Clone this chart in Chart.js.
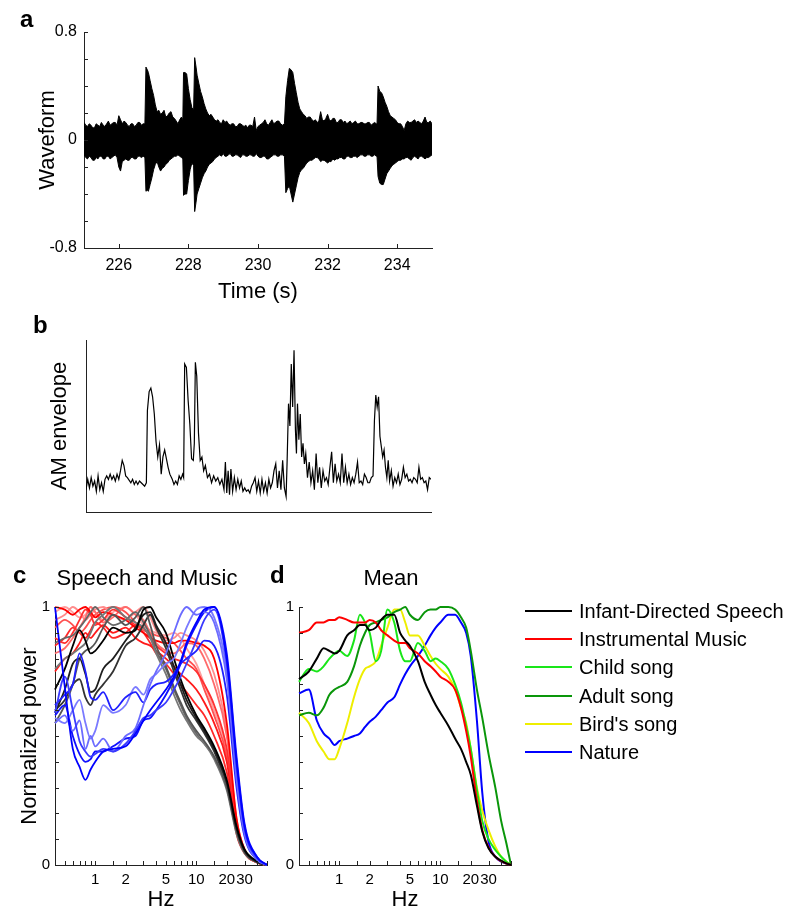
<!DOCTYPE html>
<html>
<head>
<meta charset="utf-8">
<script src="https://cdn.jsdelivr.net/npm/chart.js@4.4.1/dist/chart.umd.min.js"></script>
<style>
  body { margin: 0; background: #fff; font-family: "Liberation Sans", Arial, sans-serif; }
  #fig { position: relative; width: 786px; height: 913px; overflow: hidden; }
  canvas { position: absolute; }
  .txt { position: absolute; white-space: nowrap; line-height: 1; color: #000; }
  .c { transform: translate(-50%, -50%); }
  .letter { font-weight: bold; font-size: 24px; transform: translateY(-50%); }
  .leg { position: absolute; font-size: 20px; line-height: 1; white-space: nowrap; transform: translateY(-50%); }
  .legline { position: absolute; height: 2px; transform: translateY(-50%); }
</style>
</head>
<body>
<div id="fig">
  <canvas id="ca" width="450" height="310" style="left:0;top:0"></canvas>
  <canvas id="cb" width="450" height="220" style="left:0;top:310px"></canvas>
  <canvas id="cc" width="280" height="373" style="left:0;top:540px"></canvas>
  <canvas id="cd" width="516" height="373" style="left:270px;top:540px"></canvas>

  <div class="txt letter" style="left:20px;top:19px">a</div>
  <div class="txt letter" style="left:33px;top:325px">b</div>
  <div class="txt letter" style="left:13px;top:575px">c</div>
  <div class="txt letter" style="left:270px;top:575px">d</div>
  <div class="txt c" style="left:147px;top:578px;font-size:22px">Speech and Music</div>
  <div class="txt c" style="left:391px;top:578px;font-size:22px">Mean</div>
  <div id="legend"></div>
</div>
<script>
// ---- panel a: waveform (upper / lower envelope of the signal) ----
const waveTime = [
  225.00, 225.05, 225.10, 225.15, 225.20, 225.25, 225.30, 225.35, 225.40, 225.45, 225.50, 225.55, 225.60, 225.65, 225.70, 225.75, 225.80, 225.85, 225.90, 225.95,
  226.00, 226.05, 226.10, 226.15, 226.20, 226.25, 226.30, 226.35, 226.40, 226.45, 226.50, 226.55, 226.60, 226.65, 226.70, 226.75, 226.78, 226.82, 226.85, 226.90, 226.95,
  227.00, 227.05, 227.10, 227.15, 227.20, 227.25, 227.30, 227.35, 227.40, 227.45, 227.50, 227.55, 227.60, 227.65, 227.70, 227.75, 227.80, 227.84, 227.86, 227.90, 227.95,
  228.00, 228.05, 228.10, 228.15, 228.18, 228.22, 228.25, 228.30, 228.35, 228.40, 228.45, 228.50, 228.55, 228.60, 228.65, 228.70, 228.75, 228.80, 228.85, 228.90, 228.95,
  229.00, 229.05, 229.10, 229.15, 229.20, 229.25, 229.30, 229.35, 229.40, 229.45, 229.50, 229.55, 229.60, 229.65, 229.70, 229.75, 229.80, 229.85, 229.90, 229.95,
  230.00, 230.05, 230.10, 230.15, 230.20, 230.25, 230.30, 230.35, 230.40, 230.45, 230.50, 230.55, 230.60, 230.65, 230.70, 230.76, 230.80, 230.85, 230.90, 230.95,
  231.00, 231.05, 231.10, 231.15, 231.20, 231.25, 231.30, 231.35, 231.40, 231.45, 231.50, 231.55, 231.60, 231.65, 231.70, 231.75, 231.80, 231.85, 231.90, 231.95,
  232.00, 232.05, 232.10, 232.15, 232.20, 232.25, 232.30, 232.35, 232.40, 232.45, 232.50, 232.55, 232.60, 232.65, 232.70, 232.75, 232.80, 232.85, 232.90, 232.95,
  233.00, 233.05, 233.10, 233.15, 233.20, 233.25, 233.30, 233.35, 233.40, 233.42, 233.45, 233.50, 233.55, 233.60, 233.65, 233.70, 233.75, 233.80, 233.85, 233.90, 233.95,
  234.00, 234.05, 234.10, 234.15, 234.20, 234.25, 234.30, 234.35, 234.40, 234.45, 234.50, 234.55, 234.60, 234.65, 234.70, 234.75, 234.80, 234.85, 234.90, 234.95, 235.00
];
const waveUpper = [
  .13, .11, .10, .12, .11, .09, .09, .12, .11, .10, .13, .11, .10, .12, .14, .11, .12, .13, .13, .11,
  .18, .15, .12, .14, .13, .11, .10, .12, .12, .10, .11, .13, .13, .11, .12, .12, .54, .52, .50, .44, .38,
  .33, .26, .21, .22, .19, .20, .22, .17, .18, .20, .21, .17, .16, .14, .12, .15, .17, .15, .50, .50, .49,
  .38, .30, .24, .22, .61, .54, .48, .42, .36, .32, .27, .23, .20, .18, .19, .17, .15, .14, .15, .13, .12,
  .15, .13, .14, .12, .11, .12, .12, .10, .10, .12, .12, .11, .10, .11, .09, .11, .11, .10, .17, .07,
  .10, .11, .12, .13, .15, .12, .11, .13, .15, .12, .13, .14, .14, .12, .11, .12, .32, .44, .53, .52,
  .50, .42, .35, .28, .23, .21, .19, .18, .16, .17, .17, .15, .14, .15, .13, .14, .21, .15, .14, .16,
  .19, .15, .14, .16, .16, .13, .13, .15, .15, .13, .14, .12, .13, .14, .12, .13, .14, .12, .12, .13,
  .13, .12, .12, .13, .13, .11, .12, .13, .12, .12, .40, .36, .35, .32, .28, .25, .21, .18, .17, .16, .15,
  .13, .12, .12, .10, .07, .12, .14, .13, .13, .14, .15, .13, .14, .13, .12, .14, .17, .13, .13, .14, .12
];
const waveLower = [
  -.11, -.13, -.14, -.12, -.13, -.15, -.15, -.13, -.14, -.12, -.12, -.14, -.14, -.12, -.12, -.14, -.13, -.12, -.11, -.13,
  -.20, -.23, -.16, -.15, -.14, -.15, -.15, -.13, -.13, -.14, -.14, -.12, -.12, -.13, -.12, -.13, -.38, -.37, -.38, -.33, -.28,
  -.22, -.18, -.16, -.20, -.23, -.21, -.20, -.18, -.17, -.15, -.14, -.13, -.12, -.12, -.11, -.12, -.13, -.14, -.41, -.40, -.40,
  -.30, -.22, -.17, -.19, -.53, -.46, -.40, -.36, -.32, -.28, -.25, -.23, -.20, -.18, -.17, -.16, -.14, -.13, -.12, -.11, -.12,
  -.10, -.12, -.12, -.11, -.10, -.12, -.12, -.11, -.11, -.12, -.13, -.11, -.11, -.12, -.12, -.11, -.11, -.12, -.12, -.10,
  -.12, -.13, -.13, -.12, -.12, -.14, -.14, -.13, -.12, -.11, -.11, -.12, -.12, -.11, -.11, -.12, -.39, -.36, -.34, -.40,
  -.46, -.40, -.34, -.28, -.24, -.22, -.21, -.19, -.17, -.16, -.15, -.15, -.14, -.13, -.13, -.14, -.16, -.15, -.15, -.16,
  -.17, -.16, -.16, -.14, -.15, -.14, -.14, -.13, -.13, -.14, -.14, -.12, -.12, -.13, -.13, -.12, -.12, -.13, -.12, -.11,
  -.11, -.12, -.12, -.11, -.11, -.12, -.12, -.11, -.12, -.12, -.27, -.32, -.33, -.33, -.29, -.25, -.23, -.21, -.19, -.18, -.17,
  -.16, -.15, -.15, -.14, -.14, -.13, -.13, -.14, -.15, -.13, -.12, -.13, -.14, -.12, -.12, -.13, -.14, -.13, -.13, -.12, -.11
];
const waveYLabels = ['0.8', '0', '-0.8'];
const timeLabels = [226, 228, 230, 232, 234];

// ---- panel b: AM envelope ----
const envTime = [
  225.00, 225.05, 225.10, 225.15, 225.20, 225.25, 225.30, 225.35, 225.40, 225.45, 225.50, 225.55, 225.60, 225.65, 225.70, 225.75, 225.80, 225.85, 225.90, 225.95,
  226.00, 226.05, 226.10, 226.15, 226.20, 226.30, 226.35, 226.40, 226.45, 226.50, 226.55, 226.60, 226.70, 226.75, 226.78, 226.83, 226.88, 226.93, 226.98,
  227.03, 227.08, 227.13, 227.18, 227.23, 227.28, 227.33, 227.38, 227.43, 227.50, 227.55, 227.60, 227.65, 227.70, 227.75, 227.80, 227.83, 227.86, 227.91, 227.96,
  228.01, 228.06, 228.11, 228.14, 228.17, 228.21, 228.26, 228.31, 228.36, 228.41, 228.46, 228.52, 228.58, 228.64, 228.70, 228.76, 228.82, 228.88, 228.94,
  229.00, 229.04, 229.08, 229.12, 229.16, 229.20, 229.25, 229.30, 229.35, 229.40, 229.45, 229.50, 229.55, 229.60, 229.65, 229.70, 229.75, 229.80, 229.85, 229.90, 229.95,
  230.00, 230.05, 230.10, 230.15, 230.20, 230.25, 230.30, 230.35, 230.40, 230.45, 230.50, 230.55, 230.60, 230.65, 230.70, 230.75, 230.80, 230.83, 230.87, 230.91, 230.95, 230.99,
  231.03, 231.07, 231.10, 231.13, 231.17, 231.21, 231.25, 231.29, 231.33, 231.37, 231.42, 231.47, 231.52, 231.57, 231.62, 231.67, 231.72, 231.77, 231.82, 231.87, 231.92, 231.97,
  232.02, 232.07, 232.12, 232.17, 232.22, 232.27, 232.32, 232.37, 232.42, 232.47, 232.52, 232.57, 232.62, 232.67, 232.72, 232.77, 232.82, 232.87, 232.92, 232.97,
  233.02, 233.07, 233.12, 233.17, 233.22, 233.27, 233.32, 233.36, 233.40, 233.44, 233.48, 233.52, 233.56, 233.60, 233.64, 233.68, 233.72, 233.76, 233.80, 233.85, 233.90, 233.95,
  234.00, 234.05, 234.10, 234.15, 234.20, 234.25, 234.30, 234.35, 234.40, 234.45, 234.50, 234.55, 234.60, 234.65, 234.70, 234.75, 234.80, 234.85, 234.90, 234.95, 235.00
];
const envValue = [
  13, 19, 14, 20, 15, 18, 12, 21, 13, 17, 12, 19, 21, 19, 22, 19, 21, 18, 22, 19,
  24, 30, 27, 21, 20, 17, 19, 16, 18, 16, 18, 17, 15, 17, 59, 70, 72, 67, 57,
  41, 32, 39, 22, 32, 36, 31, 26, 22, 19, 16, 18, 16, 21, 19, 22, 20, 86, 84, 65,
  51, 31, 30, 40, 87, 79, 46, 30, 32, 24, 27, 20, 22, 17, 21, 18, 20, 16, 19,
  13, 29, 11, 24, 10, 25, 12, 20, 13, 19, 14, 18, 12, 14, 12, 13, 11, 15, 17, 20, 12,
  18, 11, 19, 12, 17, 11, 19, 14, 17, 24, 28, 14, 24, 13, 30, 14, 9, 30, 63, 50, 86, 61,
  94, 48, 34, 63, 42, 57, 32, 40, 28, 34, 20, 29, 17, 24, 13, 34, 17, 26, 14, 24, 18, 20,
  16, 26, 35, 17, 28, 18, 22, 17, 34, 17, 26, 17, 22, 16, 20, 17, 22, 29, 17, 18,
  16, 22, 20, 17, 17, 20, 21, 53, 68, 61, 67, 44, 38, 32, 36, 26, 20, 30, 18, 24, 15, 20,
  17, 22, 16, 19, 26, 20, 22, 18, 19, 17, 20, 19, 17, 26, 19, 20, 17, 18, 13, 20, 19
];

// ---- panel c: individual spectra ----
const cFreq = [0.4, 0.5, 0.6, 0.7, 0.8, 0.9, 1, 1.2, 1.5, 2, 2.5, 3, 3.5, 4, 5, 6, 7, 8, 10, 12, 15, 20, 25, 30, 40, 50];
const speechCurves = [
  [0.68, 0.76, 0.85, 0.91, 0.87, 0.82, 0.83, 0.87, 0.92, 0.90, 0.91, 0.99, 1.00, 0.96, 0.90, 0.80, 0.72, 0.66, 0.58, 0.53, 0.46, 0.33, 0.15, 0.06, 0.015, 0],
  [0.59, 0.68, 0.78, 0.80, 0.74, 0.67, 0.68, 0.76, 0.80, 0.87, 0.92, 0.97, 0.98, 0.93, 0.86, 0.77, 0.70, 0.64, 0.57, 0.52, 0.45, 0.32, 0.14, 0.055, 0.012, 0],
  [0.55, 0.62, 0.70, 0.80, 0.83, 0.84, 0.86, 0.92, 0.97, 0.93, 0.96, 1.00, 0.93, 0.85, 0.77, 0.69, 0.63, 0.58, 0.52, 0.48, 0.42, 0.30, 0.13, 0.05, 0.012, 0],
  [0.60, 0.64, 0.70, 0.72, 0.65, 0.62, 0.66, 0.70, 0.75, 0.85, 0.88, 0.93, 0.97, 0.92, 0.84, 0.75, 0.68, 0.62, 0.56, 0.51, 0.44, 0.31, 0.14, 0.05, 0.012, 0],
  [0.76, 0.80, 0.82, 0.84, 0.86, 0.90, 0.94, 0.97, 1.00, 0.96, 0.94, 0.92, 0.88, 0.82, 0.74, 0.66, 0.60, 0.56, 0.50, 0.47, 0.41, 0.29, 0.12, 0.045, 0.01, 0],
  [0.86, 0.88, 0.89, 0.92, 0.95, 0.98, 1.00, 0.96, 0.93, 0.95, 0.98, 0.94, 0.89, 0.83, 0.76, 0.68, 0.62, 0.57, 0.51, 0.47, 0.42, 0.30, 0.13, 0.05, 0.01, 0]
];
const speechColors = ['#000000', '#1e1e1e', '#555555', '#333333', '#777777', '#666666'];
const musicCurves = [
  [1.00, 0.99, 0.97, 0.99, 1.00, 0.98, 0.96, 0.98, 0.97, 0.95, 0.92, 0.90, 0.88, 0.87, 0.86, 0.86, 0.87, 0.87, 0.86, 0.85, 0.80, 0.55, 0.18, 0.06, 0.012, 0],
  [0.88, 0.86, 0.90, 0.95, 0.99, 0.97, 0.93, 0.95, 0.99, 0.96, 0.93, 0.92, 0.88, 0.85, 0.82, 0.80, 0.79, 0.78, 0.75, 0.70, 0.62, 0.45, 0.16, 0.05, 0.01, 0],
  [0.82, 0.84, 0.88, 0.92, 0.96, 1.00, 0.98, 0.94, 0.96, 1.00, 0.97, 0.95, 0.90, 0.86, 0.83, 0.82, 0.84, 0.86, 0.85, 0.80, 0.70, 0.50, 0.17, 0.06, 0.012, 0],
  [0.75, 0.80, 0.82, 0.86, 0.90, 0.88, 0.90, 0.93, 0.90, 0.92, 0.88, 0.86, 0.85, 0.83, 0.80, 0.77, 0.74, 0.72, 0.68, 0.63, 0.55, 0.40, 0.14, 0.05, 0.01, 0],
  [0.95, 0.97, 1.00, 0.98, 0.95, 0.97, 0.99, 1.00, 0.97, 0.95, 0.98, 1.00, 0.96, 0.91, 0.87, 0.88, 0.90, 0.89, 0.87, 0.83, 0.74, 0.52, 0.18, 0.06, 0.012, 0],
  [0.92, 0.95, 0.93, 0.90, 0.92, 0.95, 0.97, 0.99, 1.00, 0.98, 0.94, 0.91, 0.90, 0.89, 0.88, 0.86, 0.83, 0.80, 0.76, 0.68, 0.58, 0.42, 0.15, 0.05, 0.01, 0],
  [0.98, 1.00, 0.98, 0.96, 0.97, 1.00, 0.98, 0.95, 0.98, 1.00, 0.97, 0.93, 0.91, 0.90, 0.89, 0.90, 0.88, 0.84, 0.78, 0.70, 0.60, 0.44, 0.15, 0.05, 0.01, 0],
  [0.85, 0.88, 0.92, 0.90, 0.88, 0.91, 0.94, 0.92, 0.88, 0.90, 0.93, 0.90, 0.86, 0.82, 0.78, 0.74, 0.70, 0.67, 0.62, 0.58, 0.50, 0.36, 0.12, 0.045, 0.01, 0]
];
const musicColors = ['#ff0000', '#ff3030', '#ff6a6a', '#ff1a1a', '#ff8c8c', '#ff5050', '#ffa0a0', '#ff2828'];
const natureCurves = [
  [1.00, 0.69, 0.45, 0.38, 0.33, 0.37, 0.40, 0.44, 0.45, 0.46, 0.51, 0.56, 0.60, 0.63, 0.68, 0.73, 0.79, 0.86, 0.94, 0.99, 1.00, 0.80, 0.40, 0.15, 0.03, 0],
  [0.59, 0.73, 0.60, 0.48, 0.44, 0.42, 0.43, 0.45, 0.44, 0.47, 0.52, 0.57, 0.58, 0.60, 0.63, 0.68, 0.73, 0.78, 0.87, 0.95, 0.99, 0.78, 0.38, 0.14, 0.025, 0],
  [0.55, 0.58, 0.52, 0.56, 0.45, 0.50, 0.46, 0.49, 0.44, 0.50, 0.53, 0.62, 0.70, 0.75, 0.82, 0.90, 0.97, 1.00, 0.97, 0.98, 0.94, 0.72, 0.33, 0.12, 0.02, 0],
  [0.62, 0.66, 0.70, 0.82, 0.75, 0.65, 0.64, 0.67, 0.60, 0.65, 0.67, 0.63, 0.68, 0.70, 0.71, 0.74, 0.78, 0.80, 0.83, 0.87, 0.85, 0.66, 0.30, 0.11, 0.02, 0],
  [0.57, 0.55, 0.60, 0.64, 0.55, 0.49, 0.52, 0.62, 0.59, 0.62, 0.69, 0.66, 0.72, 0.74, 0.78, 0.80, 0.86, 0.92, 0.99, 1.00, 0.96, 0.75, 0.35, 0.13, 0.025, 0],
  [0.58, 0.62, 0.50, 0.43, 0.40, 0.41, 0.44, 0.44, 0.46, 0.49, 0.50, 0.56, 0.57, 0.60, 0.66, 0.72, 0.78, 0.85, 0.93, 0.98, 1.00, 0.82, 0.42, 0.16, 0.03, 0]
];
const natureColors = ['#0000ff', '#3a3aff', '#6b6bff', '#2020ff', '#7a7aff', '#1010ff'];

// ---- panel d: means ----
const dFreq = [0.4, 0.5, 0.6, 0.7, 0.8, 0.9, 1, 1.2, 1.4, 1.6, 1.8, 2, 2.3, 2.6, 3, 3.5, 4, 4.5, 5, 6, 7, 8, 9, 10, 12, 14, 16, 18, 20, 23, 26, 30, 35, 40, 45, 50];
const meanSpeech = [0.72, 0.75, 0.80, 0.84, 0.83, 0.82, 0.83, 0.89, 0.91, 0.93, 0.93, 0.91, 0.92, 0.95, 0.97, 0.97, 0.90, 0.87, 0.85, 0.79, 0.71, 0.66, 0.62, 0.59, 0.54, 0.49, 0.45, 0.40, 0.35, 0.23, 0.13, 0.065, 0.032, 0.017, 0.006, 0];
const meanMusic = [0.90, 0.91, 0.94, 0.94, 0.95, 0.95, 0.96, 0.95, 0.94, 0.94, 0.94, 0.95, 0.94, 0.91, 0.89, 0.87, 0.86, 0.86, 0.84, 0.82, 0.79, 0.77, 0.75, 0.73, 0.71, 0.68, 0.61, 0.52, 0.42, 0.25, 0.135, 0.068, 0.032, 0.015, 0.006, 0];
const meanChild = [0.71, 0.76, 0.75, 0.77, 0.80, 0.82, 0.83, 0.81, 0.87, 0.97, 0.94, 0.90, 0.79, 0.83, 0.99, 0.94, 0.83, 0.79, 0.79, 0.86, 0.83, 0.79, 0.80, 0.79, 0.76, 0.70, 0.63, 0.54, 0.45, 0.29, 0.17, 0.10, 0.058, 0.032, 0.013, 0];
const meanAdult = [0.58, 0.59, 0.58, 0.61, 0.66, 0.68, 0.69, 0.71, 0.77, 0.85, 0.90, 0.93, 0.94, 0.95, 0.96, 0.98, 0.99, 1.00, 0.97, 0.95, 0.98, 0.99, 0.99, 1.00, 1.00, 0.99, 0.96, 0.92, 0.83, 0.68, 0.57, 0.43, 0.30, 0.17, 0.084, 0];
const meanBird = [0.59, 0.55, 0.48, 0.44, 0.41, 0.41, 0.45, 0.55, 0.65, 0.72, 0.76, 0.77, 0.79, 0.85, 0.92, 0.99, 0.99, 0.94, 0.89, 0.89, 0.85, 0.81, 0.78, 0.76, 0.73, 0.68, 0.61, 0.55, 0.45, 0.30, 0.21, 0.135, 0.071, 0.032, 0.013, 0];
const meanNature = [0.665, 0.68, 0.56, 0.51, 0.49, 0.465, 0.48, 0.49, 0.50, 0.51, 0.535, 0.555, 0.575, 0.60, 0.63, 0.65, 0.70, 0.74, 0.77, 0.81, 0.85, 0.89, 0.92, 0.94, 0.97, 0.97, 0.94, 0.90, 0.81, 0.56, 0.28, 0.09, 0.032, 0.013, 0.006, 0];
const legendNames = ['Infant-Directed Speech', 'Instrumental Music', 'Child song', 'Adult song', "Bird's song", 'Nature'];
const meanColors = ['#000000', '#ff0000', '#19e619', '#0a960a', '#eeee00', '#0000ff'];
const hzLabels = [1, 2, 5, 10, 20, 30];

Chart.defaults.font.family = '"Liberation Sans", Arial, sans-serif';
Chart.defaults.color = '#000';
Chart.defaults.elements.point.radius = 0;

// tick marks pointing into the plot, like the original figure
const innerTicks = {
  id: 'innerTicks',
  afterDatasetsDraw(chart, args, opts) {
    const { ctx, scales: { x, y } } = chart;
    ctx.save();
    ctx.strokeStyle = '#222';
    ctx.lineWidth = 1;
    ctx.beginPath();
    if (opts.x) x.ticks.forEach(t => {
      if (opts.xLabelledOnly && !t.label) return;
      const px = Math.round(x.getPixelForValue(t.value)) + 0.5;
      ctx.moveTo(px, y.bottom);
      ctx.lineTo(px, y.bottom - opts.len);
    });
    if (opts.y) y.ticks.forEach(t => {
      const py = Math.round(y.getPixelForValue(t.value)) + 0.5;
      ctx.moveTo(x.left, py);
      ctx.lineTo(x.left + opts.len, py);
    });
    ctx.stroke();
    ctx.restore();
  }
};

const pts = (xs, ys) => xs.map((v, i) => ({ x: v, y: ys[i] }));
const near = (v, list) => list.some(l => Math.abs(v - l) < 1e-6 * Math.max(1, Math.abs(l)));

const baseOpts = (pad) => ({
  responsive: false,
  animation: false,
  events: [],
  layout: { padding: pad },
  plugins: { legend: { display: false }, tooltip: { enabled: false } }
});

// panel a
new Chart(document.getElementById('ca'), {
  type: 'line',
  data: {
    datasets: [
      { data: pts(waveTime, waveUpper), borderColor: '#000', backgroundColor: '#000', borderWidth: 1, fill: '+1', tension: 0 },
      { data: pts(waveTime, waveLower), borderColor: '#000', borderWidth: 1, fill: false, tension: 0 }
    ]
  },
  options: Object.assign(baseOpts({ top: 32, right: 18, left: 0, bottom: 0 }), {
    plugins: { legend: { display: false }, tooltip: { enabled: false }, innerTicks: { x: true, y: true, xLabelledOnly: true, len: 4 } },
    scales: {
      x: {
        type: 'linear', min: 225, max: 235,
        ticks: { stepSize: 1, autoSkip: false, maxRotation: 0, padding: 8, font: { size: 16 },
          callback: v => near(v, timeLabels) ? String(Math.round(v)) : '' },
        grid: { display: false, drawTicks: false },
        border: { color: '#222' },
        title: { display: true, text: 'Time (s)', font: { size: 22 }, padding: { top: 0, bottom: 5 } },
        afterFit: s => { s.height = 62; }
      },
      y: {
        min: -0.8, max: 0.8,
        ticks: { stepSize: 0.2, autoSkip: false, padding: 7, font: { size: 16 },
          callback: v => Math.abs(v - 0.8) < 1e-6 ? waveYLabels[0] : Math.abs(v) < 1e-6 ? waveYLabels[1] : Math.abs(v + 0.8) < 1e-6 ? waveYLabels[2] : '' },
        grid: { display: false, drawTicks: false },
        border: { color: '#222' },
        title: { display: true, text: 'Waveform', font: { size: 22 }, padding: { top: 35, bottom: 0 } },
        afterFit: s => { s.width = 84; }
      }
    }
  }),
  plugins: [innerTicks]
});

// panel b
new Chart(document.getElementById('cb'), {
  type: 'line',
  data: { datasets: [{ data: pts(envTime, envValue), borderColor: '#000', borderWidth: 1.2, fill: false, tension: 0 }] },
  options: Object.assign(baseOpts({ top: 30, right: 19, left: 0, bottom: 0 }), {
    scales: {
      x: { type: 'linear', min: 225, max: 235, ticks: { display: false }, grid: { display: false, drawTicks: false },
        border: { color: '#222' }, afterFit: s => { s.height = 18; } },
      y: { min: 0, max: 100, ticks: { display: false }, grid: { display: false, drawTicks: false },
        border: { color: '#222' },
        title: { display: true, text: 'AM envelope', font: { size: 22 }, padding: { top: 47, bottom: 0 } },
        afterFit: s => { s.width = 86; } }
    }
  })
});

const specScales = (yW, yTitle) => ({
  x: {
    type: 'logarithmic', min: 0.4, max: 50,
    ticks: { autoSkip: false, maxRotation: 0, padding: 6, font: { size: 15 },
      callback: v => near(v, hzLabels) ? String(Math.round(v)) : '' },
    grid: { display: false, drawTicks: false },
    border: { color: '#222' },
    title: { display: true, text: 'Hz', font: { size: 22 }, padding: { top: 0, bottom: 0 } },
    afterFit: s => { s.height = 48; }
  },
  y: {
    min: 0, max: 1,
    ticks: { stepSize: 0.1, autoSkip: false, padding: 5, font: { size: 15 },
      callback: v => Math.abs(v) < 1e-6 ? '0' : Math.abs(v - 1) < 1e-6 ? '1' : '' },
    grid: { display: false, drawTicks: false },
    border: { color: '#222' },
    title: { display: !!yTitle, text: yTitle || '', font: { size: 22 }, padding: { top: 17, bottom: 0 } },
    afterFit: s => { s.width = yW; }
  }
});

// panel c
const cSets = [];
natureCurves.forEach((c, i) => cSets.push({ data: pts(cFreq, c), borderColor: natureColors[i], borderWidth: 1.8 }));
speechCurves.forEach((c, i) => cSets.push({ data: pts(cFreq, c), borderColor: speechColors[i], borderWidth: 1.8 }));
musicCurves.forEach((c, i) => cSets.push({ data: pts(cFreq, c), borderColor: musicColors[i], borderWidth: 1.8 }));
cSets.forEach(d => { d.fill = false; d.cubicInterpolationMode = 'monotone'; d.clip = 4; });

new Chart(document.getElementById('cc'), {
  type: 'line',
  data: { datasets: cSets },
  options: Object.assign(baseOpts({ top: 67, right: 13, left: 0, bottom: 0 }), {
    plugins: { legend: { display: false }, tooltip: { enabled: false }, innerTicks: { x: true, y: true, len: 4 } },
    scales: specScales(55, 'Normalized power')
  }),
  plugins: [innerTicks]
});

// panel d
const meanSeries = [meanSpeech, meanMusic, meanChild, meanAdult, meanBird, meanNature];
new Chart(document.getElementById('cd'), {
  type: 'line',
  data: {
    datasets: meanSeries.map((m, i) => ({ label: legendNames[i], data: pts(dFreq, m), borderColor: meanColors[i],
      borderWidth: 2, fill: false, cubicInterpolationMode: 'monotone', clip: 4 }))
  },
  options: Object.assign(baseOpts({ top: 67, right: 275, left: 0, bottom: 0 }), {
    plugins: { legend: { display: false }, tooltip: { enabled: false }, innerTicks: { x: true, y: true, len: 4 } },
    scales: specScales(29, '')
  }),
  plugins: [innerTicks]
});

// legend for panel d
const legEl = document.getElementById('legend');
legendNames.forEach((name, i) => {
  const y = 611 + i * 28.2;
  const ln = document.createElement('div');
  ln.className = 'legline';
  ln.style.cssText = `left:525px;width:47px;top:${y}px;background:${meanColors[i]}`;
  const tx = document.createElement('div');
  tx.className = 'leg';
  tx.style.cssText = `left:579px;top:${y}px`;
  tx.textContent = name;
  legEl.appendChild(ln);
  legEl.appendChild(tx);
});
</script>
</body>
</html>
